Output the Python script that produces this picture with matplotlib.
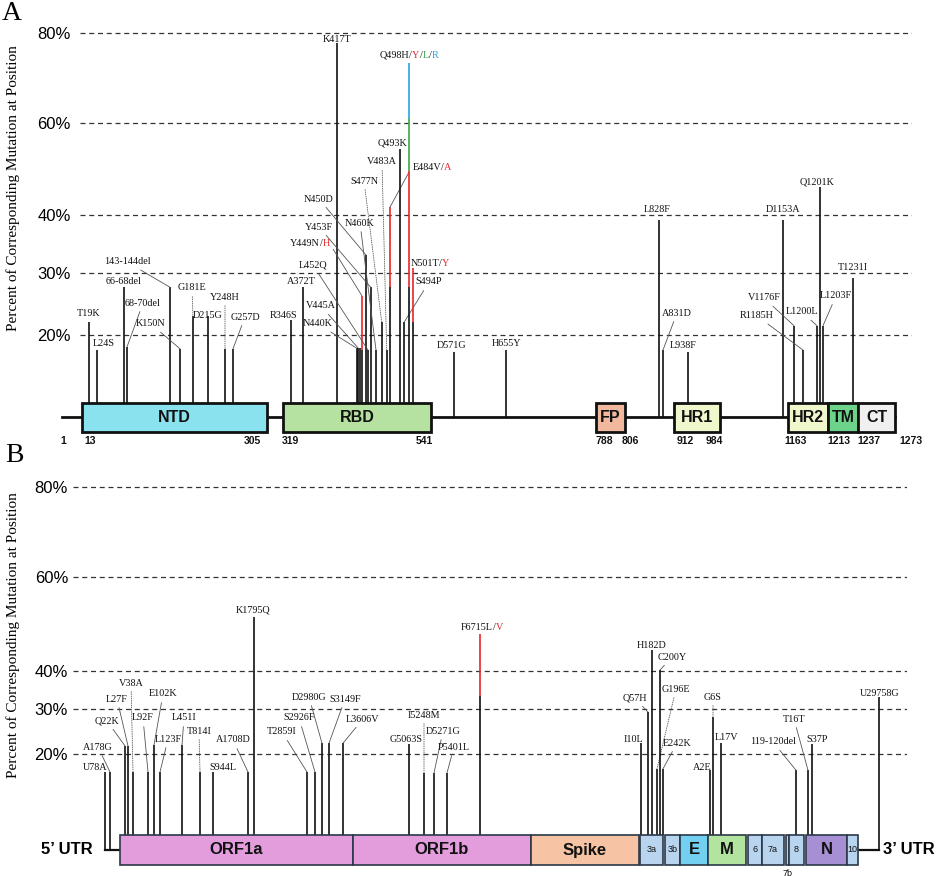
import numpy as np
import matplotlib
matplotlib.use('Agg')
import matplotlib.pyplot as plt
from matplotlib.patches import Rectangle
from matplotlib.offsetbox import TextArea, HPacker, AnnotationBbox

SERIF = 'Liberation Serif'
SANS = 'Liberation Sans'
SEG_COLORS = ['#111111', '#e8262a', '#36a84a', '#27a3df']
W, H = 936, 876

# ---------------- panel A : spike protein ----------------
# stem position along the schematic (px of the original), percent per colour segment (cumulative)
a_names = ['T19K', 'L24S', '66-68del', '68-70del', '143-144del', 'K150N', 'G181E', 'D215G',
           'Y248H', 'G257D', 'R346S', 'A372T', 'K417T', 'N440K', 'V445A', '',
           'Y449N/H', 'N450D', 'L452Q', 'Y453F', 'N460K', 'S477N', 'V483A', 'E484V/A',
           'Q493K', 'S494P', 'Q498H/Y/L/R', 'N501T/Y', 'D571G', 'H655Y', 'L828F', 'A831D',
           'L938F', 'D1153A', 'V1176F', 'R1185H', 'L1200L', 'Q1201K', 'L1203F', 'T1231I']
a_pos = [89, 97, 124, 127, 170, 180, 193, 208, 225, 233, 291, 303, 337, 356.7, 358.3, 360,
         362, 366, 368, 370.7, 376, 381.7, 386.7, 390, 400, 404.3, 409, 412.7, 454, 506, 659, 663,
         688, 783, 794, 803, 817, 820, 823, 853]
a_pct = [[22.1], [17.5], [27.7], [18.0], [27.7], [17.7], [23.0], [23.0],
         [17.7], [17.7], [22.5], [27.7], [77.8], [17.8], [17.8], [17.8],
         [17.5, 26.3], [33.1], [17.5], [27.7], [17.5], [22.1], [17.5], [27.7, 41.7],
         [54.3], [22.1], [27.7, 49.6, 61.1, 73.3], [22.1, 30.8], [17.2], [17.5], [39.1], [17.5],
         [17.2], [39.1], [21.5], [17.5], [21.5], [46.1], [21.5], [29.2]]
# label centre (px) and leader style (0 none, 1 solid, 2 dotted)
a_lab = [(89, 314, 0), (104, 344, 0), (124, 282, 0), (143, 303, 1), (127, 262, 1), (151, 324, 1),
         (192, 288, 2), (208, 316, 0), (225, 297, 2), (245, 317, 1), (284, 316, 0), (301, 282, 0),
         (337, 39, 0), (318, 324, 1), (321, 306, 1), (0, 0, 0),
         (310, 244, 1), (319, 199, 1), (313, 265, 1), (319, 227, 1), (360, 223, 1), (364, 181, 2),
         (382, 162, 2), (432, 167, 1), (392, 143, 0), (429, 282, 1), (409, 55, 0), (430, 263, 0),
         (452, 346, 0), (506, 344, 0), (657, 210, 0), (677, 313, 1), (683, 346, 0), (783, 210, 0),
         (764, 298, 1), (757, 316, 1), (802, 312, 1), (817, 182, 0), (836, 296, 1), (853, 267, 0)]

a_domains = ['NTD', 'RBD', 'FP', 'HR1', 'HR2', 'TM', 'CT']
a_dom_start = [82, 283, 596, 674, 788, 828, 858]
a_dom_end = [267, 431, 625, 720, 828, 858, 895]
a_dom_color = ['#8ae2ef', '#b5e2a0', '#f2b89d', '#eff7cc', '#eff7cc', '#6dd38a', '#f0f0f0']
a_res = ['1', '13', '305', '319', '541', '788', '806', '912', '984', '1163', '1213', '1237', '1273']
a_res_x = [63, 90, 252, 290, 424, 604, 630, 685, 714, 796, 839, 869, 911]

# ---------------- panel B : genome ----------------
b_names = ['U78A', 'A178G', 'Q22K', 'L27F', 'V38A', 'L92F', 'E102K', 'L123F', 'L451I', 'T814I',
           'S944L', 'A1708D', 'K1795Q', 'T2859I', 'S2926F', 'D2980G', 'S3149F', 'L3606V',
           'G5063S', 'I5248M', 'D5271G', 'P5401L', 'F6715L/V', 'I10L', 'Q57H', 'H182D', 'G196E',
           'C200Y', 'E242K', 'A2E', 'G6S', 'L17V', '119-120del', 'T16T', 'S37P', 'U29758G']
b_pos = [105, 110, 125, 128, 133, 148, 154, 160, 182, 200, 213, 248, 254, 307, 315, 322, 329, 343,
         409, 424, 434, 447, 480, 641, 648, 652, 657, 660, 663, 710, 713, 721, 796, 808, 812, 879]
b_pct = [[16.0], [16.0], [21.8], [21.8], [16.0], [16.0], [22.0], [16.0], [22.0], [16.0],
         [16.0], [16.0], [51.5], [16.0], [16.0], [22.4], [22.4], [22.4],
         [22.2], [15.8], [15.8], [15.8], [33.4, 47.9], [22.4], [29.3], [44.5], [16.7],
         [40.2], [16.7], [16.4], [28.2], [22.4], [16.4], [16.4], [22.2], [33.2]]
b_lab = [(95, 768, 0), (98, 747, 1), (107, 721, 1), (117, 699, 1), (131, 683, 2), (143, 718, 1),
         (163, 694, 1), (168, 739, 1), (184, 718, 1), (199, 731, 2), (223, 768, 0), (233, 740, 1),
         (253, 610, 0), (282, 732, 1), (299, 718, 1), (309, 697, 1), (345, 699, 1), (363, 719, 1),
         (406, 740, 0), (424, 715, 2), (443, 731, 1), (454, 747, 1), (482, 628, 0), (633, 739, 0),
         (635, 698, 1), (652, 646, 0), (676, 689, 2), (672, 657, 1), (677, 743, 1), (702, 767, 0),
         (713, 697, 2), (727, 737, 0), (773, 742, 1), (794, 719, 1), (817, 740, 0), (880, 693, 0)]

b_domains = ['ORF1a', 'ORF1b', 'Spike', '3a', '3b', 'E', 'M', '6', '7a', '7b', '8', 'N', '10']
b_dom_start = [120, 353, 531, 640, 665, 680, 708, 748, 762, 786, 789, 806, 847]
b_dom_end = [353, 531, 639, 663, 680, 708, 746, 762, 784, 789, 804, 847, 858]
b_dom_color = ['#e39ddd', '#e39ddd', '#f6c3a4', '#b9d4ef', '#b9d4ef', '#74d0f1', '#b2e4a0',
               '#b9d4ef', '#b9d4ef', '#b9d4ef', '#b9d4ef', '#a68fd3', '#b9d4ef']

ticks = [20, 30, 40, 60, 80]
tick_labels = ['20%', '30%', '40%', '60%', '80%']
ylab = 'Percent of Corresponding Mutation at Position'


def setup(rect_px, ref, pk, uk):
    # rect_px: left, top, right, bottom in px of the original
    l, t, r, b = rect_px
    ax = fig.add_axes([l / W, 1 - b / H, (r - l) / W, (b - t) / H])
    fwd = lambda p: np.interp(p, pk, uk)
    inv = lambda u: np.interp(u, uk, pk)
    ax.set_yscale('function', functions=(fwd, inv))
    ax.set_xlim(l, r)
    ax.set_ylim(float(inv(ref - b)), float(inv(ref - t)))
    for s in ax.spines.values():
        s.set_visible(False)
    ax.set_xticks([])
    ax.set_yticks(ticks, labels=tick_labels, fontfamily=SANS, fontsize=12)
    ax.grid(axis='y', ls=(0, (4, 3)), color='#333333', lw=0.9)
    ax.set_axisbelow(True)
    return ax, (lambda py: float(inv(ref - py)))


def put_label(ax, name, vals, x, top, lab):
    tx, ty, lead = lab
    if not name:
        return
    arrow = None
    if lead:
        arrow = dict(arrowstyle='-', lw=0.6, color='#555555', ls='-' if lead == 1 else ':',
                     shrinkA=1, shrinkB=0)
    if len(vals) == 1:
        ax.annotate(name, xy=(x, top), xytext=(tx, H - ty), textcoords='figure pixels',
                    ha='center', va='center', fontsize=7.3, family=SERIF, color='#111111',
                    arrowprops=arrow, annotation_clip=False)
        return
    kids = []
    for i, bit in enumerate(name.split('/')):
        if i:
            kids.append(TextArea('/', textprops=dict(color='#111111', family=SERIF, size=7.3)))
        kids.append(TextArea(bit, textprops=dict(color=SEG_COLORS[i], family=SERIF, size=7.3)))
    ab = AnnotationBbox(HPacker(children=kids, pad=0, sep=0, align='baseline'),
                        (tx, H - ty), xycoords='figure pixels', frameon=False, pad=0,
                        box_alignment=(0.5, 0.5))
    ax.add_artist(ab)
    if arrow:
        # leader starts at the lower corner of the label facing the stem
        sx, sy = ax.transData.transform((x, top))
        hw = 3.2 * len(name)
        ax.annotate('', xy=(x, top), xytext=(tx + np.clip(sx - tx, -hw, hw), H - ty - 4),
                    textcoords='figure pixels', arrowprops=arrow, annotation_clip=False)


def stems(ax, pos, pct, labs, names, starts, ends, box_top, base, lw):
    for x, vals, lab, name in zip(pos, pct, labs, names):
        inside = any(s <= x <= e for s, e in zip(starts, ends))
        bot = box_top if inside else base
        lows = [bot] + vals[:-1]
        ax.vlines([x] * len(vals), lows, vals, colors=SEG_COLORS[:len(vals)], lw=lw, zorder=3)
        put_label(ax, name, vals, x, vals[-1], lab)


fig = plt.figure(figsize=(W / 100, H / 100), dpi=100)

# ---- A ----
axA, pyA = setup((80, 0, 912, 450), 455,
                 [-20, 0, 20, 30, 40, 60, 80, 100], [-120, 0, 120, 182, 240, 332, 422, 512])
axA.tick_params(axis='y', length=0, pad=6.5)
axA.set_ylabel(ylab, fontfamily=SERIF, fontsize=11)
axA.yaxis.set_label_coords((20 - 80) / 832, (450 - 188) / 450)
topA, botA, baseA = pyA(403), pyA(432), pyA(417)
axA.plot([62, a_dom_end[-1]], [baseA, baseA], color='#111111', lw=2, clip_on=False, zorder=2)
for name, s, e, c in zip(a_domains, a_dom_start, a_dom_end, a_dom_color):
    axA.add_patch(Rectangle((s, botA), e - s, topA - botA, facecolor=c, edgecolor='#111111',
                            lw=2, zorder=4))
    axA.text((s + e) / 2, baseA, name, ha='center', va='center', fontfamily=SANS,
             fontweight='bold', fontsize=11.5, color='#111111', zorder=5)
for r, x in zip(a_res, a_res_x):
    axA.text(x, pyA(441), r, ha='center', va='center', fontfamily=SANS, fontweight='bold',
             fontsize=7.5, color='#111111')
stems(axA, a_pos, a_pct, a_lab, a_names, a_dom_start, a_dom_end, topA, baseA, 1.2)

# ---- B ----
axB, pyB = setup((73, 455, 907, 876), 844,
                 [-20, 0, 20, 30, 40, 60, 80, 100], [-90, 0, 90, 135, 173, 267, 357, 447])
axB.tick_params(axis='y', length=0, pad=3.6)
axB.set_ylabel(ylab, fontfamily=SERIF, fontsize=11)
axB.yaxis.set_label_coords((20 - 73) / 834, (876 - 635) / 421)
topB, botB, baseB = pyB(835), pyB(865), pyB(850)
axB.plot([min(b_pos), b_dom_start[0]], [baseB, baseB], color='#111111', lw=1.6, clip_on=False,
         zorder=2)
axB.plot([b_dom_end[-1], max(b_pos)], [baseB, baseB], color='#111111', lw=1.6, clip_on=False,
         zorder=2)
for name, s, e, c in zip(b_domains, b_dom_start, b_dom_end, b_dom_color):
    axB.add_patch(Rectangle((s, botB), e - s, topB - botB, facecolor=c, edgecolor='#2b3848',
                            lw=1.2, zorder=4))
    big = (e - s) > 25 and name not in ('3a', '7a')
    ty = pyB(873) if name == '7b' else baseB
    axB.text((s + e) / 2, ty, name, ha='center', va='center', fontfamily=SANS,
             fontweight='bold' if big else 'normal', fontsize=12 if big else 6.5,
             color='#111111', zorder=5)
stems(axB, b_pos, b_pct, b_lab, b_names, b_dom_start, b_dom_end, topB, baseB, 1.2)
axB.text(67, baseB, '5\u2019 UTR', ha='center', va='center', fontfamily=SANS,
         fontweight='bold', fontsize=12)
axB.text(909, baseB, '3\u2019 UTR', ha='center', va='center', fontfamily=SANS,
         fontweight='bold', fontsize=12)

fig.text(2 / W, 1 - 20 / H, 'A', fontfamily=SERIF, fontsize=20, va='baseline')
fig.text(5 / W, 1 - 462 / H, 'B', fontfamily=SERIF, fontsize=20, va='baseline')

fig.savefig('out.png', dpi=100)
